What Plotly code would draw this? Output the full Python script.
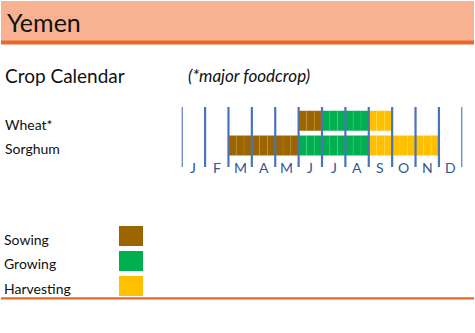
import plotly.graph_objects as go

# ---- data ----
months = ["J", "F", "M", "A", "M", "J", "J", "A", "S", "O", "N", "D"]
crops = ["Sorghum", "Wheat*"]
# stage per month (S=Sowing, G=Growing, H=Harvesting, "" = none)
wheat_stages = ["", "", "", "", "", "S", "G", "G", "H", "", "", ""]
sorghum_stages = ["", "", "S", "S", "S", "G", "G", "G", "H", "H", "H", ""]
stage_names = {"S": "Sowing", "G": "Growing", "H": "Harvesting"}
stage_colors = {"S": "#9C6500", "G": "#00B050", "H": "#FFC000"}
dekads_per_month = 3

W, H = 475, 333
FONT = "Lato, Carlito, 'Liberation Sans', sans-serif"

def px_y(p):
    return 1 - p / H

fig = go.Figure()

crop_stage_map = {"Wheat*": wheat_stages, "Sorghum": sorghum_stages}
for code in ["S", "G", "H"]:
    ys, xs, bases = [], [], []
    for crop in crops:
        for m, st in enumerate(crop_stage_map[crop]):
            if st == code:
                for d in range(dekads_per_month):
                    ys.append(crop)
                    xs.append(1 / dekads_per_month)
                    bases.append(m + d / dekads_per_month)
    fig.add_trace(go.Bar(
        y=ys, x=xs, base=bases, orientation="h",
        name=stage_names[code],
        marker=dict(color=stage_colors[code],
                    line=dict(color="rgba(255,255,255,0.13)", width=0.5)),
        showlegend=False, hoverinfo="skip",
    ))

x0p, x1p = 181.7, 462.3
fig.update_layout(
    width=W, height=H,
    margin=dict(l=0, r=0, t=0, b=0),
    paper_bgcolor="white", plot_bgcolor="rgba(0,0,0,0)",
    barmode="overlay", bargap=0.19,
    font=dict(family=FONT, color="#111111"),
    xaxis=dict(range=[0, 12], domain=[x0p / W, x1p / W], showgrid=False,
               zeroline=False, showticklabels=False, showline=False, fixedrange=True),
    yaxis=dict(type="category", categoryorder="array", categoryarray=crops,
               range=[-0.5, 1.5], domain=[px_y(157.9), px_y(108.3)],
               showgrid=False, zeroline=False, showticklabels=False, showline=False),
)

shapes = []
# header band
shapes.append(dict(type="rect", xref="paper", yref="paper", x0=1 / W, x1=474 / W,
                   y0=px_y(41), y1=px_y(1), fillcolor="#F8B292", line_width=0, layer="below"))
shapes.append(dict(type="rect", xref="paper", yref="paper", x0=1 / W, x1=474 / W,
                   y0=px_y(44.5), y1=px_y(40.5), fillcolor="#E8692C", line_width=0))
# bottom line
shapes.append(dict(type="rect", xref="paper", yref="paper", x0=1 / W, x1=474 / W,
                   y0=px_y(299.5), y1=px_y(297.3), fillcolor="#E8692C", line_width=0))
# month separators
for i in range(len(months) + 1):
    shapes.append(dict(type="line", xref="x", yref="paper", x0=i, x1=i,
                       y0=px_y(167), y1=px_y(107),
                       line=dict(color="#4A74B8", width=2.2), layer="above"))
# legend boxes
leg_tops = [226, 251, 276]
for code, top in zip(["S", "G", "H"], leg_tops):
    shapes.append(dict(type="rect", xref="paper", yref="paper", x0=119 / W, x1=143 / W,
                       y0=px_y(top + 20), y1=px_y(top), fillcolor=stage_colors[code], line_width=0))

annotations = []
annotations.append(dict(text="Yemen", xref="paper", yref="paper", x=5 / W, y=px_y(22),
                        xanchor="left", yanchor="middle", showarrow=False,
                        font=dict(size=25, color="#111111")))
annotations.append(dict(text="Crop Calendar", xref="paper", yref="paper", x=3 / W, y=px_y(76),
                        xanchor="left", yanchor="middle", showarrow=False,
                        font=dict(size=19, color="#111111")))
annotations.append(dict(text="<i>(*major foodcrop)</i>", xref="paper", yref="paper", x=186 / W,
                        y=px_y(76), xanchor="left", yanchor="middle", showarrow=False,
                        font=dict(size=17, color="#111111")))
for crop, yc in zip(["Wheat*", "Sorghum"], [124, 148]):
    annotations.append(dict(text=crop, xref="paper", yref="paper", x=3 / W, y=px_y(yc),
                            xanchor="left", yanchor="middle", showarrow=False,
                            font=dict(size=14, color="#111111")))
for i, m in enumerate(months):
    annotations.append(dict(text=m, xref="x", yref="paper", x=i + 0.5, y=px_y(167),
                            xanchor="center", yanchor="middle", showarrow=False,
                            font=dict(size=14, color="#2F5597")))
for code, yc in zip(["S", "G", "H"], [239, 263, 288]):
    annotations.append(dict(text=stage_names[code], xref="paper", yref="paper", x=2 / W,
                            y=px_y(yc), xanchor="left", yanchor="middle", showarrow=False,
                            font=dict(size=14, color="#111111")))

fig.update_layout(shapes=shapes, annotations=annotations)
fig.write_html("out.html")
